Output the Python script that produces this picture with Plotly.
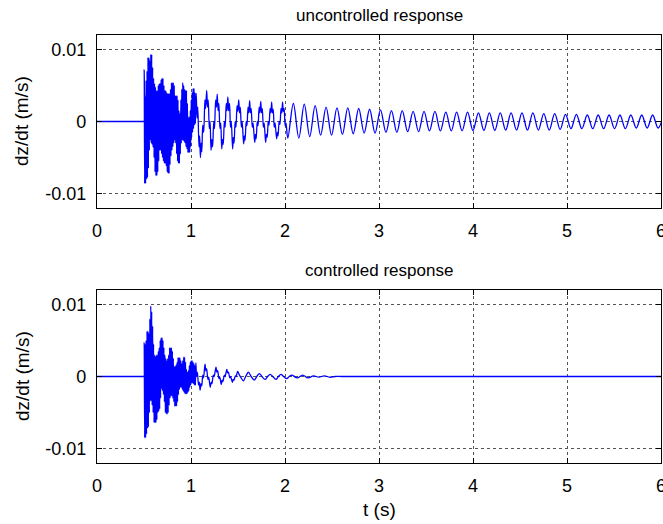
import plotly.graph_objects as go
from plotly.subplots import make_subplots

# ---------------- data ----------------
x_ticks = [0, 1, 2, 3, 4, 5, 6]
y_ticks = [-0.01, 0, 0.01]
y_tick_labels = ["-0.01", "0", "0.01"]
titles = ["uncontrolled response", "controlled response"]

pre_t = [0.0, 0.2, 0.4, 0.47, 0.49, 0.497, 0.5]
pre_v = [0.0, 0.0, 0.0, 0.0, 0.0, 0.0, 0.0]

burst_hi_t = [0.502, 0.512, 0.522, 0.532, 0.542, 0.552, 0.562, 0.572, 0.582, 0.592,
              0.602, 0.612, 0.622, 0.632, 0.642, 0.652, 0.662, 0.672, 0.682, 0.692,
              0.702, 0.712, 0.722, 0.732, 0.742, 0.752, 0.762, 0.772, 0.782, 0.792,
              0.802, 0.812, 0.822, 0.832, 0.842, 0.852, 0.862, 0.872, 0.882, 0.892,
              0.902, 0.912, 0.922, 0.932, 0.942, 0.952, 0.962, 0.972, 0.982, 0.992,
              1.002, 1.012, 1.022, 1.032, 1.042]
burst_lo_t = [0.507, 0.517, 0.527, 0.537, 0.547, 0.557, 0.567, 0.577, 0.587, 0.597,
              0.607, 0.617, 0.627, 0.637, 0.647, 0.657, 0.667, 0.677, 0.687, 0.697,
              0.707, 0.717, 0.727, 0.737, 0.747, 0.757, 0.767, 0.777, 0.787, 0.797,
              0.807, 0.817, 0.827, 0.837, 0.847, 0.857, 0.867, 0.877, 0.887, 0.897,
              0.907, 0.917, 0.927, 0.937, 0.947, 0.957, 0.967, 0.977, 0.987, 0.997,
              1.007, 1.017, 1.027, 1.037, 1.047]

unc_hi_v = [0.0072, 0.0035, 0.0057, 0.0070, 0.0089, 0.0089, 0.0085, 0.0093, 0.0093, 0.0075,
            0.0060, 0.0053, 0.0048, 0.0043, 0.0043, 0.0050, 0.0053, 0.0053, 0.0058, 0.0060,
            0.0060, 0.0050, 0.0043, 0.0043, 0.0040, 0.0039, 0.0039, 0.0039, 0.0045, 0.0054,
            0.0054, 0.0054, 0.0050, 0.0036, 0.0036, 0.0036, 0.0030, 0.0015, 0.0011, 0.0030,
            0.0045, 0.0054, 0.0050, 0.0045, 0.0043, 0.0043, 0.0025, 0.0006, 0.0006, 0.0015,
            0.0030, 0.0040, 0.0046, 0.0046, 0.0040]
unc_lo_v = [-0.0086, -0.0086, -0.0080, -0.0078, -0.0065, -0.0040, -0.0026, -0.0030, -0.0032, -0.0036,
            -0.0050, -0.0070, -0.0075, -0.0075, -0.0070, -0.0055, -0.0040, -0.0040, -0.0045, -0.0050,
            -0.0055, -0.0058, -0.0058, -0.0062, -0.0070, -0.0072, -0.0072, -0.0060, -0.0048, -0.0040,
            -0.0035, -0.0030, -0.0026, -0.0030, -0.0045, -0.0055, -0.0058, -0.0058, -0.0045, -0.0030,
            -0.0026, -0.0026, -0.0028, -0.0030, -0.0035, -0.0038, -0.0043, -0.0043, -0.0043, -0.0035,
            -0.0022, -0.0015, -0.0010, -0.0005, -0.0003]

unc_mid_t = [1.055, 1.065, 1.072, 1.085, 1.092, 1.100, 1.108, 1.115, 1.125, 1.135,
             1.148, 1.155, 1.167, 1.175, 1.183, 1.195, 1.203, 1.213, 1.222, 1.230,
             1.242, 1.250, 1.262, 1.270, 1.279, 1.288, 1.296, 1.308, 1.316, 1.327,
             1.335, 1.343, 1.355, 1.363, 1.375, 1.383, 1.392, 1.400, 1.410, 1.420,
             1.428, 1.443, 1.450, 1.458, 1.470, 1.478, 1.490, 1.498, 1.508, 1.516,
             1.524, 1.536, 1.544, 1.560, 1.568, 1.575, 1.587, 1.595, 1.607, 1.615,
             1.624, 1.632, 1.640, 1.652, 1.660, 1.678, 1.686, 1.693, 1.705, 1.713,
             1.725, 1.733, 1.742, 1.750, 1.758, 1.770, 1.778, 1.794, 1.802, 1.810,
             1.822, 1.830, 1.842, 1.850, 1.858, 1.866, 1.874, 1.886, 1.894, 1.911,
             1.919, 1.926, 1.938, 1.946, 1.958, 1.966, 1.974, 1.982, 1.990, 2.002,
             2.010, 2.030]
unc_mid_v = [0.0039, 0.0005, 0.0020, -0.0035, -0.0020, -0.0050, -0.0030, -0.0042, -0.0005, -0.0015,
             0.0030, 0.0018, 0.0043, 0.0020, 0.0030, -0.0010, 0.0000, -0.0040, -0.0025, -0.0035,
             0.0000, -0.0010, 0.0030, 0.0020, 0.0038, 0.0015, 0.0025, -0.0010, -0.0002, -0.0038,
             -0.0025, -0.0032, 0.0000, -0.0008, 0.0025, 0.0015, 0.0034, 0.0015, 0.0025, -0.0008,
             0.0000, -0.0038, -0.0022, -0.0030, 0.0000, -0.0008, 0.0022, 0.0014, 0.0030, 0.0012,
             0.0020, -0.0008, 0.0000, -0.0031, -0.0020, -0.0026, 0.0000, -0.0006, 0.0020, 0.0012,
             0.0029, 0.0012, 0.0018, -0.0008, -0.0002, -0.0029, -0.0018, -0.0024, 0.0000, -0.0006,
             0.0020, 0.0012, 0.0028, 0.0012, 0.0018, -0.0008, -0.0002, -0.0029, -0.0018, -0.0022,
             0.0000, -0.0005, 0.0018, 0.0012, 0.0027, 0.0012, 0.0017, -0.0008, -0.0002, -0.0024,
             -0.0015, -0.0020, 0.0000, -0.0004, 0.0018, 0.0012, 0.0027, 0.0014, 0.0018, -0.0006,
             -0.0002, -0.0023]

unc_tail_t = [2.089, 2.147, 2.205, 2.263, 2.321, 2.379, 2.437, 2.495, 2.553, 2.611,
              2.668, 2.726, 2.784, 2.842, 2.900, 2.958, 3.016, 3.074, 3.132, 3.190,
              3.247, 3.305, 3.363, 3.421, 3.479, 3.537, 3.595, 3.653, 3.711, 3.769,
              3.826, 3.884, 3.942, 4.000, 4.058, 4.116, 4.174, 4.232, 4.290, 4.348,
              4.405, 4.463, 4.521, 4.579, 4.637, 4.695, 4.753, 4.811, 4.869, 4.927,
              4.984, 5.042, 5.100, 5.158, 5.216, 5.274, 5.332, 5.390, 5.448, 5.506,
              5.563, 5.621, 5.679, 5.737, 5.795, 5.853, 5.911, 5.969, 6.027]
unc_tail_v = [0.0025, -0.0023, 0.0024, -0.0021, 0.0022, -0.0019, 0.0020, -0.0019, 0.0019, -0.0018,
              0.0019, -0.0017, 0.0018, -0.0016, 0.0017, -0.0016, 0.0016, -0.0015, 0.0015, -0.0015,
              0.0015, -0.0014, 0.0014, -0.0014, 0.0014, -0.0013, 0.0014, -0.0013, 0.0013, -0.0013,
              0.0013, -0.0013, 0.0013, -0.00125, 0.0012, -0.00125, 0.0012, -0.00125, 0.0012, -0.0012,
              0.0012, -0.0012, 0.0012, -0.0012, 0.0012, -0.0012, 0.0011, -0.0012, 0.0011, -0.0011,
              0.0010, -0.0010, 0.0010, -0.0010, 0.0009, -0.0010, 0.0009, -0.0010, 0.0009, -0.0010,
              0.0009, -0.0010, 0.0009, -0.0009, 0.0009, -0.0009, 0.0009, -0.0009, 0.0009]

ctl_hi_v = [0.0047, 0.0045, 0.0050, 0.0063, 0.0063, 0.0060, 0.0080, 0.0098, 0.0090, 0.0070,
            0.0045, 0.0030, 0.0028, 0.0030, 0.0030, 0.0035, 0.0040, 0.0050, 0.0054, 0.0054,
            0.0050, 0.0040, 0.0030, 0.0025, 0.0022, 0.0025, 0.0030, 0.0040, 0.0040, 0.0040,
            0.0035, 0.0025, 0.0014, 0.0014, 0.0016, 0.0020, 0.0026, 0.0026, 0.0026, 0.0022,
            0.0018, 0.0022, 0.0027, 0.0027, 0.0020, 0.0010, 0.0006, 0.0008, 0.0015, 0.0020,
            0.0022, 0.0022, 0.0020, 0.0018, 0.0015]
ctl_lo_v = [-0.0085, -0.0085, -0.0080, -0.0072, -0.0070, -0.0050, -0.0034, -0.0034, -0.0040, -0.0050,
            -0.0064, -0.0064, -0.0064, -0.0060, -0.0050, -0.0048, -0.0045, -0.0030, -0.0017, -0.0020,
            -0.0025, -0.0035, -0.0050, -0.0052, -0.0052, -0.0050, -0.0040, -0.0030, -0.0027, -0.0027,
            -0.0030, -0.0035, -0.0041, -0.0041, -0.0041, -0.0035, -0.0025, -0.0018, -0.0015, -0.0015,
            -0.0018, -0.0020, -0.0022, -0.0024, -0.0024, -0.0024, -0.0022, -0.0020, -0.0015, -0.0012,
            -0.0009, -0.0009, -0.0010, -0.0012, -0.0012]

ctl_mid_t = [1.052, 1.060, 1.068, 1.080, 1.088, 1.097, 1.106, 1.114, 1.125, 1.133,
             1.149, 1.158, 1.166, 1.180, 1.188, 1.205, 1.214, 1.222, 1.238, 1.246,
             1.266, 1.275, 1.283, 1.298, 1.306, 1.322, 1.331, 1.339, 1.355, 1.363,
             1.381, 1.390, 1.398, 1.413, 1.421, 1.440, 1.449, 1.457, 1.472, 1.480,
             1.496, 1.512, 1.528, 1.558, 1.574, 1.590, 1.611, 1.640, 1.672, 1.700,
             1.727, 1.755, 1.788, 1.815, 1.842, 1.870, 1.903, 1.930, 1.957, 1.985,
             2.018, 2.045, 2.072, 2.130, 2.188, 2.245, 2.303, 2.360, 2.418, 2.476,
             2.534, 2.600, 2.700, 3.000, 4.000, 5.000, 6.000]
ctl_mid_v = [0.0019, 0.0000, 0.0006, -0.0012, -0.0008, -0.0019, -0.0010, -0.0013, 0.0002, -0.0002,
             0.0017, 0.0008, 0.0011, -0.0004, -0.0001, -0.0015, -0.0008, -0.0010, 0.0002, 0.0000,
             0.0013, 0.0006, 0.0008, -0.0003, -0.0001, -0.0011, -0.0005, -0.0007, 0.0002, 0.0000,
             0.0010, 0.0005, 0.0006, -0.0002, 0.0000, -0.0008, -0.0004, -0.0005, 0.0001, 0.0000,
             0.0007, 0.0003, -0.0001, -0.0006, -0.0002, 0.0002, 0.0006, 0.0000, -0.0005, 0.0000,
             0.0004, 0.0000, -0.0004, 0.0000, 0.0003, 0.0000, -0.0004, 0.0000, 0.0003, 0.0000,
             -0.0003, 0.0000, 0.0002, -0.0002, 0.0002, -0.0002, 0.0001, -0.0001, 0.0001, -0.0001,
             0.0000, 0.0000, 0.0000, 0.0000, 0.0000, 0.0000, 0.0000]


def assemble(parts):
    pts = []
    for ts, vs in parts:
        pts.extend(zip(ts, vs))
    pts.sort(key=lambda p: p[0])
    return [p[0] for p in pts], [p[1] for p in pts]


unc_t, unc_v = assemble([(pre_t, pre_v), (burst_hi_t, unc_hi_v), (burst_lo_t, unc_lo_v),
                         (unc_mid_t, unc_mid_v), (unc_tail_t, unc_tail_v)])
ctl_t, ctl_v = assemble([(pre_t, pre_v), (burst_hi_t, ctl_hi_v), (burst_lo_t, ctl_lo_v),
                         (ctl_mid_t, ctl_mid_v)])

# ---------------- figure ----------------
W, H = 663, 524
ML, MR, MT, MB = 97, 2, 35, 61
FONT = "Liberation Sans, Arial, Helvetica, sans-serif"

fig = make_subplots(rows=2, cols=1, vertical_spacing=0.0)

for i, (t, v) in enumerate([(unc_t, unc_v), (ctl_t, ctl_v)], start=1):
    fig.add_trace(go.Scatter(x=t, y=v, mode="lines",
                             line=dict(color="#0000ff", width=1.3, shape="spline", smoothing=1.0),
                             showlegend=False, hoverinfo="skip", cliponaxis=True), row=i, col=1)

axis_common = dict(showline=True, linecolor="black", linewidth=1.3, mirror="ticks",
                   ticks="inside", ticklen=5, tickcolor="black", tickwidth=1,
                   showgrid=True, gridcolor="#555555", griddash="dot", gridwidth=1,
                   zeroline=False, automargin=False, ticklabeloverflow="allow",
                   tickfont=dict(family=FONT, size=18, color="black"))

top_dom = [(H - MB - 208) / (H - MB - MT), 1.0]
bot_dom = [0.0, (H - MB - 290) / (H - MB - MT)]

fig.update_layout(
    width=W, height=H, margin=dict(l=ML, r=MR, t=MT, b=MB, autoexpand=False),
    plot_bgcolor="white", paper_bgcolor="white",
    font=dict(family=FONT, size=18, color="black"),
    xaxis=dict(domain=[0, 1], range=[0, 6], tickvals=x_ticks, **axis_common, ticklabelstandoff=6),
    xaxis2=dict(domain=[0, 1], range=[0, 6], tickvals=x_ticks, **axis_common, ticklabelstandoff=6),
    yaxis=dict(domain=top_dom, range=[-0.012, 0.012], tickvals=y_ticks, ticktext=y_tick_labels,
               **axis_common, ticklabelstandoff=6),
    yaxis2=dict(domain=bot_dom, range=[-0.012, 0.012], tickvals=y_ticks, ticktext=y_tick_labels,
                **axis_common, ticklabelstandoff=6),
)

ph = H - MB - MT
pw = W - ML - MR


def py(y_px):
    return (H - MB - y_px) / ph


def px(x_px):
    return (x_px - ML) / pw


ann = [
    dict(text=titles[0], x=0.5, y=py(15), xref="paper", yref="paper", showarrow=False,
         xanchor="center", yanchor="middle", font=dict(family=FONT, size=17)),
    dict(text=titles[1], x=0.5, y=py(270), xref="paper", yref="paper", showarrow=False,
         xanchor="center", yanchor="middle", font=dict(family=FONT, size=17)),
    dict(text="t (s)", x=0.5, y=py(509), xref="paper", yref="paper", showarrow=False,
         xanchor="center", yanchor="middle", font=dict(family=FONT, size=19)),
    dict(text="dz/dt (m/s)", x=px(22), y=py(121), xref="paper", yref="paper", showarrow=False,
         textangle=-90, xanchor="center", yanchor="middle", font=dict(family=FONT, size=19)),
    dict(text="dz/dt (m/s)", x=px(22), y=py(376), xref="paper", yref="paper", showarrow=False,
         textangle=-90, xanchor="center", yanchor="middle", font=dict(family=FONT, size=19)),
]
fig.update_layout(annotations=ann)

fig.write_html("out.html", config={"displayModeBar": False},
               post_script="document.body.style.margin='0';document.body.style.overflow='hidden';")
